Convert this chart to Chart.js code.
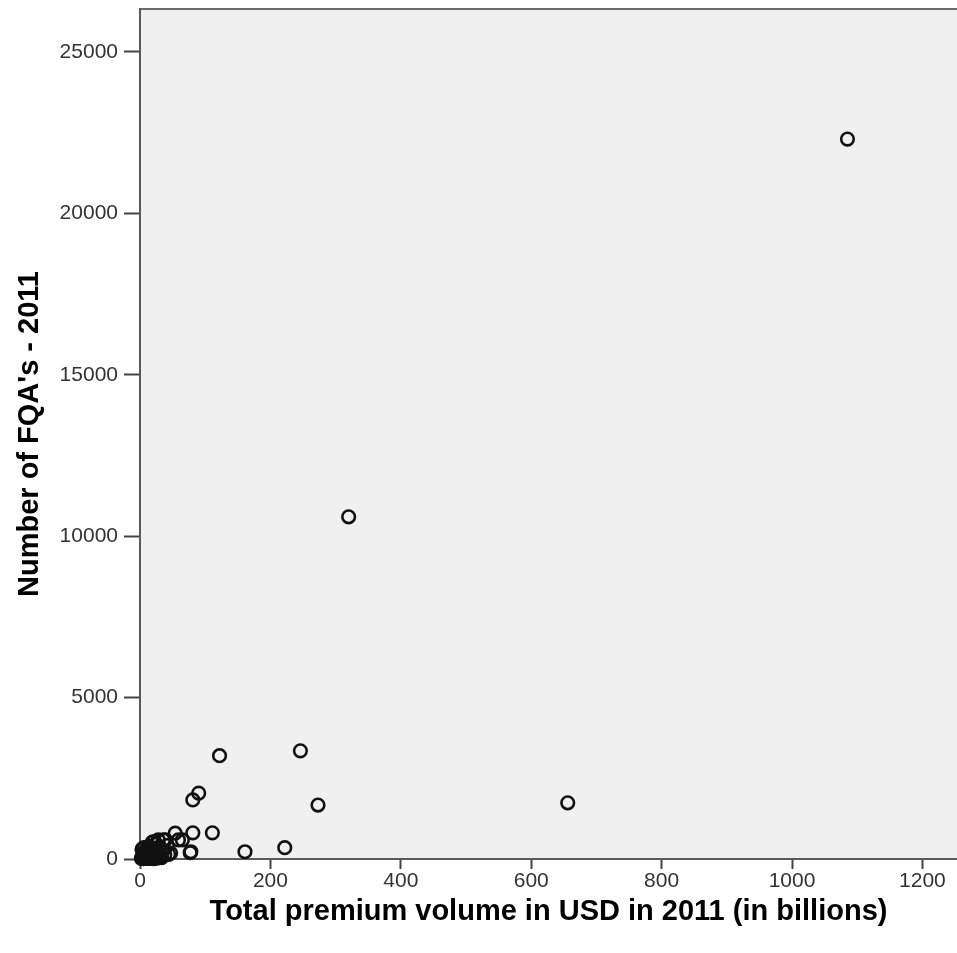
<!DOCTYPE html>
<html>
<head>
<meta charset="utf-8">
<script src="https://cdn.jsdelivr.net/npm/chart.js@4.4.1/dist/chart.umd.min.js"></script>
<style>
  html, body { margin: 0; padding: 0; background: #fff; }
  #wrap { width: 957px; height: 953px; }
</style>
</head>
<body>
<div id="wrap"><canvas id="fqaChart" width="957" height="953"></canvas></div>
<script>
// Total premium volume (USD bn, 2011) per country
const premiumVolume = [
    1085, 320, 246, 122, 273, 656, 90, 81, 111, 81, 54, 161, 222,
    77, 78, 47, 44, 59, 65, 39, 36, 28, 21, 19,
    2, 3, 4, 5, 6, 7, 8, 9, 10, 11, 12, 13, 14, 15, 16, 17, 18, 19,
    20, 22, 24, 26, 28, 30, 32, 35, 38, 42, 25, 14,
    3, 6, 9, 12, 16, 21, 27, 33
];
// Number of FQA's - 2011
const fqaCount = [
    22300, 10600, 3350, 3200, 1670, 1740, 2040, 1830, 810, 810, 800, 225, 350,
    195, 225, 185, 145, 590, 590, 590, 590, 590, 535, 525,
    20, 60, 110, 10, 150, 40, 90, 200, 15, 130, 60, 250, 30, 180, 100, 320, 50, 220,
    140, 80, 280, 30, 170, 380, 90, 250, 130, 420, 460, 400,
    300, 350, 270, 40, 20, 10, 60, 40
];

const xTickValues = [0, 200, 400, 600, 800, 1000, 1200];
const yTickValues = [0, 5000, 10000, 15000, 20000, 25000];

const points = premiumVolume.map((x, i) => ({ x: x, y: fqaCount[i] }));

// grey plot area plus the top frame line
const plotBackground = {
    id: 'plotBackground',
    beforeDraw(chart) {
        const { ctx, chartArea: a } = chart;
        ctx.save();
        ctx.fillStyle = '#f0f0f0';
        ctx.fillRect(a.left, a.top, a.right - a.left, a.bottom - a.top);
        ctx.strokeStyle = '#6a6a6a';
        ctx.lineWidth = 2;
        ctx.beginPath();
        ctx.moveTo(a.left, a.top);
        ctx.lineTo(a.right, a.top);
        ctx.stroke();
        ctx.restore();
    }
};

const tickFont = { family: 'Liberation Sans, Arial, sans-serif', size: 21 };
const titleFont = { family: 'Liberation Sans, Arial, sans-serif', size: 29, weight: 'bold', lineHeight: 1 };
const plainNumber = value => String(value);

new Chart(document.getElementById('fqaChart').getContext('2d'), {
    type: 'scatter',
    data: {
        datasets: [{
            data: points,
            pointStyle: 'circle',
            pointRadius: 6.3,
            pointHoverRadius: 6.3,
            pointBorderWidth: 2.6,
            borderColor: '#111',
            backgroundColor: 'rgba(0,0,0,0)',
            clip: false
        }]
    },
    options: {
        responsive: false,
        animation: false,
        layout: { autoPadding: false, padding: { top: 9, right: 0, bottom: 0, left: 0 } },
        plugins: {
            legend: { display: false },
            tooltip: { enabled: false }
        },
        scales: {
            x: {
                type: 'linear',
                min: 0,
                max: 1253,
                afterBuildTicks: scale => { scale.ticks = xTickValues.map(v => ({ value: v })); },
                afterFit: scale => {
                    scale.height = 94;
                    scale.paddingLeft = 0;
                    scale.paddingRight = 0;
                },
                ticks: { font: tickFont, color: '#333', padding: 0, maxRotation: 0, callback: plainNumber },
                grid: { drawOnChartArea: false, tickLength: 10, tickWidth: 2, tickColor: '#444' },
                border: { color: '#5a5a5a', width: 2 },
                title: {
                    display: true,
                    text: 'Total premium volume in USD in 2011 (in billions)',
                    font: titleFont,
                    color: '#000',
                    padding: { top: 0, bottom: 27 }
                }
            },
            y: {
                type: 'linear',
                min: 0,
                max: 26330,
                afterBuildTicks: scale => { scale.ticks = yTickValues.map(v => ({ value: v })); },
                afterFit: scale => {
                    scale.width = 140;
                    scale.paddingTop = 0;
                    scale.paddingBottom = 0;
                },
                ticks: { font: tickFont, color: '#333', padding: 6, callback: plainNumber },
                grid: { drawOnChartArea: false, tickLength: 16, tickWidth: 2, tickColor: '#444' },
                border: { color: '#5a5a5a', width: 2 },
                title: {
                    display: true,
                    text: "Number of FQA's - 2011",
                    font: titleFont,
                    color: '#000',
                    padding: { top: 15, bottom: 0 }
                }
            }
        }
    },
    plugins: [plotBackground]
});
</script>
</body>
</html>
